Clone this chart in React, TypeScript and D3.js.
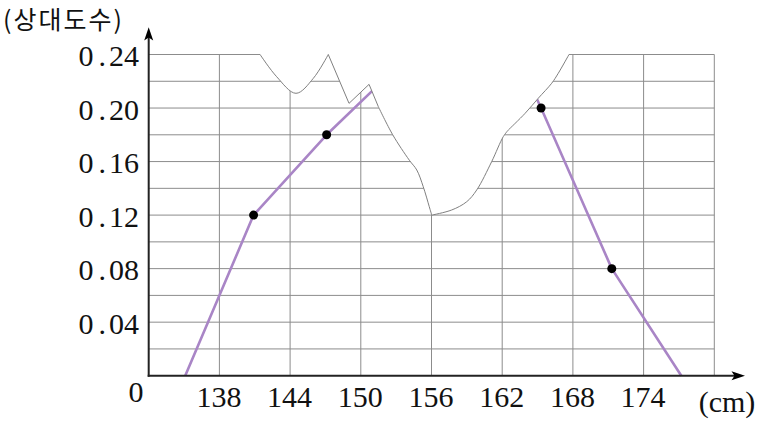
import React from "react";
import * as d3 from "d3";

// class midpoints (cm) and relative frequencies of the frequency polygon
const heights = [135.1, 140.9, 147.1, 153, 159, 165.3, 171.3, 177.2];
const relFreq = [0, 0.12, 0.18, 0.23, 0.32, 0.2, 0.08, 0];
const visibleDots = [140.9, 147.1, 165.3, 171.3];

const xTicks = [138, 144, 150, 156, 162, 168, 174];
const yTicks = [0.04, 0.08, 0.12, 0.16, 0.2, 0.24];
const xGrid = [138, 144, 150, 156, 162, 168, 174, 180];
const yGrid = [0.02, 0.04, 0.06, 0.08, 0.1, 0.12, 0.14, 0.16, 0.18, 0.2, 0.22, 0.24];

// torn edge of the paper (cm, relative frequency)
const tearU: [number, number][] = [
  [141.45, 0.24], [142.86, 0.2234], [144.5, 0.211], [145.97, 0.2222], [147.24, 0.24],
];
const tearZig: [number, number][] = [
  [147.24, 0.24], [149.0, 0.2035], [150.7, 0.2177], [151.49, 0.201],
];
const tearDown: [number, number][] = [
  [151.49, 0.201], [152.71, 0.18], [154.12, 0.161], [154.75, 0.1537], [155.3, 0.1412],
  [155.81, 0.1263], [156.02, 0.12],
];
const tearUp: [number, number][] = [
  [156.02, 0.12], [157.71, 0.1238], [158.99, 0.13], [159.84, 0.1388], [161.11, 0.16],
  [162.09, 0.1786], [162.52, 0.1836],
];
const tearTop: [number, number][] = [
  [162.52, 0.1836], [163.94, 0.196], [165.06, 0.2073], [166.2, 0.2185], [166.76, 0.226],
  [167.67, 0.24],
];

const W = 761;
const H = 423;

export default function App() {
  const x = d3.scaleLinear().domain([132, 180]).range([148.7, 714.3]);
  const y = d3.scaleLinear().domain([0, 0.24]).range([375.7, 54.5]);

  const smooth = d3
    .line<[number, number]>()
    .x((d) => x(d[0]))
    .y((d) => y(d[1]))
    .curve(d3.curveCatmullRom.alpha(0.5));
  const straight = d3
    .line<[number, number]>()
    .x((d) => x(d[0]))
    .y((d) => y(d[1]));

  const pieces = [
    smooth(tearU)!,
    straight(tearZig)!,
    smooth(tearDown)!,
    smooth(tearUp)!,
    smooth(tearTop)!,
  ];
  const tearPath = pieces.map((p, i) => (i === 0 ? p : p.replace(/^M/, "L"))).join("");
  const coverPath = tearPath + `L${x(167.67)},-100L${x(141.45)},-100Z`;

  const poly = d3
    .line<number>()
    .x((_, i) => x(heights[i]))
    .y((d) => y(d));

  const x0 = x(132);
  const x1 = x(180);
  const y0 = y(0);
  const yTop = y(0.24);

  const serif = "'Liberation Serif', 'DejaVu Serif', serif";

  const fmt = (v: number) => {
    const s = v.toFixed(2);
    return [s.slice(0, 1), s.slice(2)];
  };

  return (
    <svg width={W} height={H} style={{ position: "absolute", left: 0, top: 0 }}>
      <rect width={W} height={H} fill="#fff" />
      {/* grid */}
      <g stroke="#8c8c8c" strokeWidth={1}>
        {yGrid.map((v) => (
          <line key={"h" + v} x1={x0} x2={x1} y1={y(v)} y2={y(v)} />
        ))}
        {xGrid.map((v) => (
          <line key={"v" + v} x1={x(v)} x2={x(v)} y1={y0} y2={yTop} />
        ))}
      </g>
      {/* frequency polygon */}
      <path d={poly(relFreq)!} fill="none" stroke="#a985c6" strokeWidth={2.6} strokeLinejoin="round" />
      {heights.map((h, i) =>
        visibleDots.includes(h) ? (
          <circle key={"d" + h} cx={x(h)} cy={y(relFreq[i])} r={4.5} fill="#000" />
        ) : null
      )}
      {/* torn paper */}
      <path d={coverPath} fill="#fff" stroke="none" />
      <path d={tearPath} fill="none" stroke="#808080" strokeWidth={1} />
      {/* axes */}
      <g stroke="#222" strokeWidth={2} fill="none">
        <line x1={x0} x2={x0} y1={y0 + 1} y2={36} />
        <line x1={x0 - 1} x2={735} y1={y0} y2={y0} />
      </g>
      <path d={`M${x0},27.3 L${x0 + 4.5},40.5 L${x0},37.5 L${x0 - 4.5},40.5 Z`} fill="#000" />
      <path d={`M745,${y0} L731.5,${y0 - 4.5} L734.5,${y0} L731.5,${y0 + 4.5} Z`} fill="#000" />
      {/* tick labels */}
      <g fontFamily={serif} fontSize={30} fill="#111">
        {yTicks.map((v) => {
          const [a, b] = fmt(v);
          return (
            <text key={"yl" + v} x={139} y={y(v) + 11.5} textAnchor="end">
              <tspan>{a}</tspan>
              <tspan dx={5}>.</tspan>
              <tspan dx={3}>{b}</tspan>
            </text>
          );
        })}
        <text x={136} y={402} textAnchor="middle">
          0
        </text>
        {xTicks.map((v) => (
          <text key={"xl" + v} x={x(v) - 0.5} y={407} textAnchor="middle">
            {v}
          </text>
        ))}
        <text x={727} y={412} textAnchor="middle">
          (cm)
        </text>
      </g>
      <text
        x={3}
        y={29}
        fontFamily="'Noto Sans CJK KR', sans-serif"
        fontSize={25}
        letterSpacing={2}
        fill="#111"
      >
        (상대도수)
      </text>
    </svg>
  );
}
